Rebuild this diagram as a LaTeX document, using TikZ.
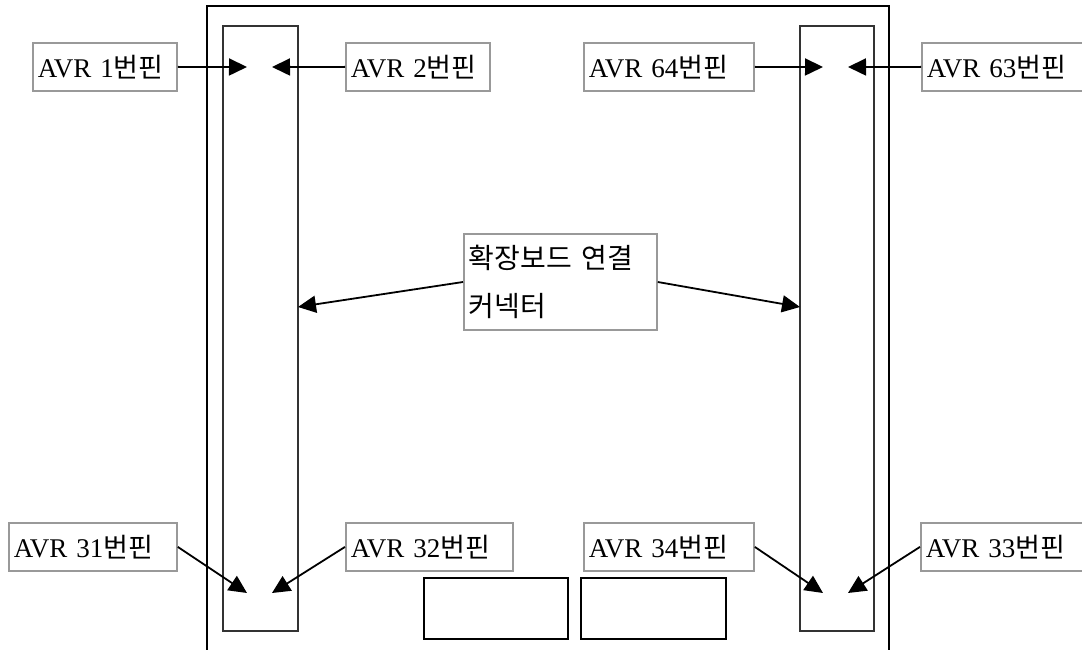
\documentclass[tikz,border=0pt]{standalone}
\usepackage{fontspec}
\usepackage{tikz}
\usetikzlibrary{arrows.meta}
\setmainfont{Liberation Serif}
\newfontfamily\kr{Noto Sans CJK KR}
\newcommand{\avrpin}[1]{AVR #1{\kr\fontsize{27}{28}\selectfont 번핀}}
\tikzset{
  pinbox/.style={draw=black!40, line width=1.8pt, anchor=north west, minimum height=48pt,
    text width=#1, align=left, inner sep=5pt, font=\fontsize{27}{28}\selectfont},
  conn/.style={draw=black!80, line width=1.5pt},
  arr/.style={-{Triangle[length=18pt,width=17pt]}, line width=1.8pt}
}
\begin{document}
\begin{tikzpicture}[x=1pt,y=-1pt]
            \useasboundingbox (0,0) rectangle (1082,650);
            % board outline and connectors
            \draw[line width=1.6pt] (207,680) -- (207,6) -- (889,6) -- (889,680);
            \draw[conn] (223,26) rectangle (298,631);
            \draw[conn] (800,26) rectangle (874,631);
            \draw[line width=2pt] (424,578) rectangle (568,639);
            \draw[line width=2pt] (581,578) rectangle (726,639);

            \node[pinbox=134pt] (P1) at (32,42) {\avrpin{1}};
            \node[pinbox=134pt] (P2) at (345,42) {\avrpin{2}};
            \node[pinbox=160pt] (P64) at (583,42) {\avrpin{64}};
            \node[pinbox=170pt] (P63) at (921,42) {\avrpin{63}};
            \node[pinbox=158pt] (P31) at (8,522) {\avrpin{31}};
            \node[pinbox=157pt] (P32) at (345,522) {\avrpin{32}};
            \node[pinbox=160pt] (P34) at (583,522) {\avrpin{34}};
            \node[pinbox=170pt] (P33) at (920,522) {\avrpin{33}};
            \node[draw=black!40, line width=1.8pt, anchor=north west, minimum width=193pt,
              minimum height=96pt, text width=183pt, align=left, inner sep=5pt,
              font=\kr\fontsize{28}{48}\selectfont] (Ext) at (463,233) {확장보드 연결\\커넥터};

            \coordinate (T1) at (247,67);
            \coordinate (T2) at (272,67);
            \coordinate (T64) at (823,67);
            \coordinate (T63) at (848,67);
            \coordinate (T31) at (247,593);
            \coordinate (T32) at (272,593);
            \coordinate (T34) at (823,593);
            \coordinate (T33) at (848,593);
            \coordinate (CL) at (298,307);
            \coordinate (CR) at (800,307);

            \draw[arr] (P1.east) -- (T1);
            \draw[arr] (P2.west) -- (T2);
            \draw[arr] (P64.east) -- (T64);
            \draw[arr] (P63.west) -- (T63);
            \draw[arr] (P31.east) -- (T31);
            \draw[arr] (P32.west) -- (T32);
            \draw[arr] (P34.east) -- (T34);
            \draw[arr] (P33.west) -- (T33);
            \draw[arr] (Ext.west |- 0,282) -- (CL);
            \draw[arr] (Ext.east |- 0,282) -- (CR);
        \end{tikzpicture}
\end{document}
